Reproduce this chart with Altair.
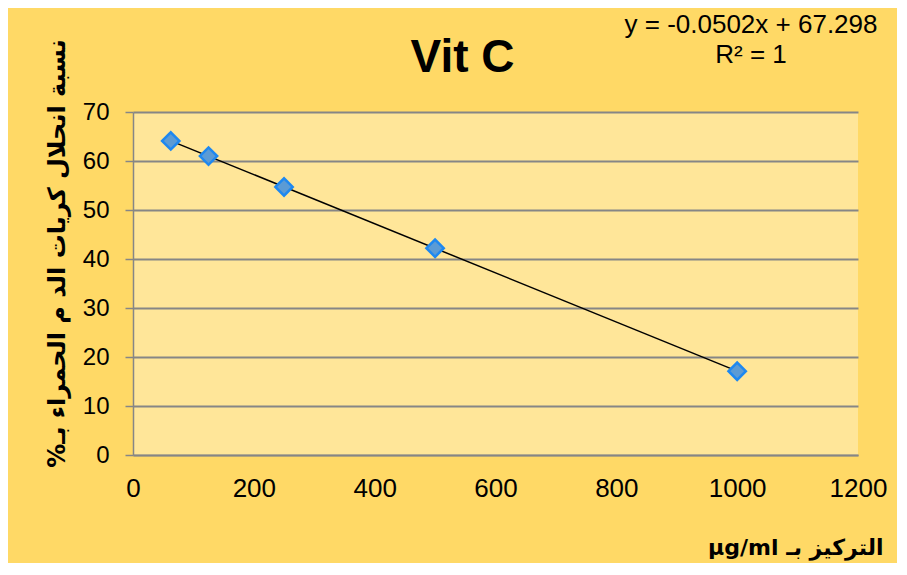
import altair as alt
import pandas as pd

# data
conc = [62.5, 125, 250, 500, 1000]
lysis = [64.1, 61.0, 54.7, 42.2, 17.1]
x_ticks = [0, 200, 400, 600, 800, 1000, 1200]
y_ticks = [0, 10, 20, 30, 40, 50, 60, 70]
title_text = "Vit C"
eq_lines = ["y = -0.0502x + 67.298", "R² = 1"]
x_title = "التركيز بـ µg/ml"
y_title = "نسبة انحلال كريات الد م الحمراء بـ%"

RLE, PDF = "\u202B", "\u202C"

df = pd.DataFrame({"x": conc, "y": lysis})

OUTER = "#FFD966"
PLOT = "#FFE699"
GRID = "#868686"
LATIN = "Liberation Sans, Arial, DejaVu Sans"
ARAB = "DejaVu Sans, Liberation Sans"

x_enc = alt.X(
    "x:Q",
    scale=alt.Scale(domain=[0, 1200], nice=False),
    axis=alt.Axis(
        values=x_ticks, format="d", grid=False, tickSize=0, labelPadding=20,
        labelFontSize=26, labelFont=LATIN, labelColor="black",
        domainColor=GRID, domainWidth=1.5,
        title=RLE + x_title + PDF, titleFont=ARAB, titleFontSize=22,
        titleFontWeight="bold",
        titleColor="black", titleX=750, titleY=92, titleAlign="right",
        titleBaseline="middle", labelFlush=False,
    ),
)
y_enc = alt.Y(
    "y:Q",
    scale=alt.Scale(domain=[0, 70], nice=False),
    axis=alt.Axis(
        values=y_ticks, format="d", grid=True, gridColor=GRID, gridWidth=1.8,
        tickSize=8, tickColor=GRID, tickWidth=1.5, labelPadding=16,
        labelFontSize=24, labelFont=LATIN, labelColor="black",
        domainColor=GRID, domainWidth=1.5,
        title=RLE + y_title + PDF, titleFont=ARAB, titleFontSize=24,
        titleFontWeight="bold",
        titleColor="black", titleX=-76, titleY=141, titleAngle=-90,
        titleAlign="center", titleBaseline="middle",
    ),
)

base = alt.Chart(df)

trend = base.transform_regression("x", "y").mark_line(
    color="black", strokeWidth=1.5
).encode(x=x_enc, y=y_enc)

points = base.mark_point(
    shape="diamond", size=300, filled=True, fill="#5B9BD5", fillOpacity=1,
    stroke="#1E88F0", strokeWidth=2.5, opacity=1,
).encode(x=x_enc, y=y_enc)

eq = alt.Chart(pd.DataFrame({"t": [0]})).mark_text(
    font=LATIN, fontSize=26, color="black", align="center",
    baseline="alphabetic", lineHeight=30,
).encode(
    x=alt.value(618), y=alt.value(-79), text=alt.value(eq_lines)
)

chart = alt.layer(trend, points, eq).properties(
    width=725,
    height=343,
    background=OUTER,
    padding={"left": 125, "top": 104, "right": 39, "bottom": 108},
    autosize=alt.AutoSizeParams(type="none"),
    title=alt.TitleParams(
        title_text, font=LATIN, fontSize=46, fontWeight="bold", color="black",
        anchor="middle", dx=-33, offset=-106, baseline="alphabetic",
    ),
).configure_view(fill=PLOT, stroke=None)

chart.save("out.html", embed_options={"renderer": "svg", "actions": False})
